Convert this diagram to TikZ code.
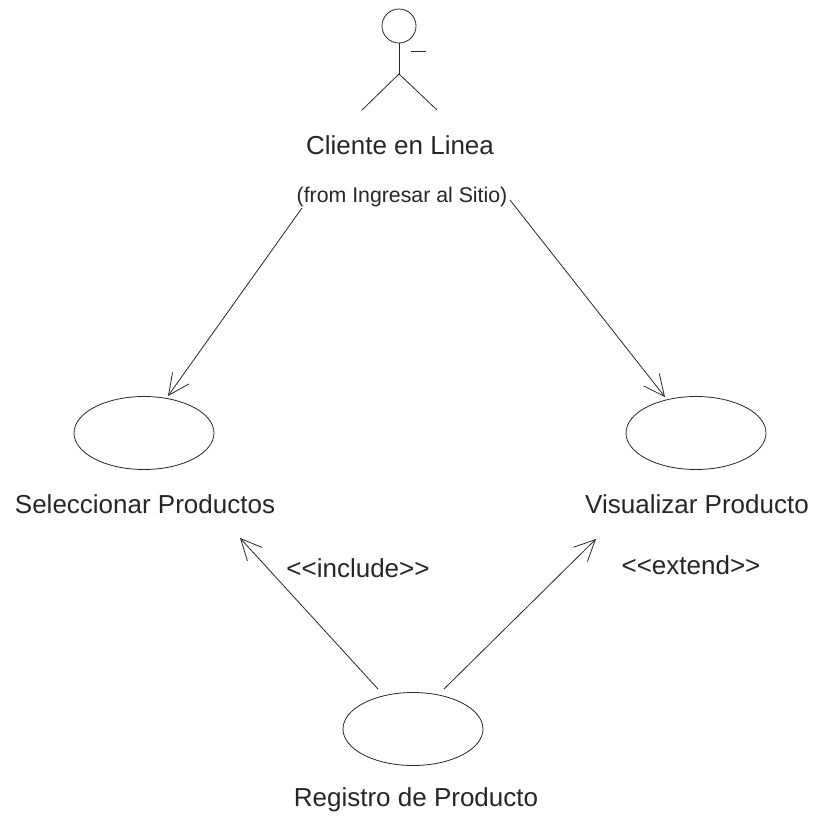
\documentclass[tikz,border=0pt]{standalone}
\usepackage{fontspec}
\setmainfont{Liberation Sans}
\usetikzlibrary{shapes.geometric,arrows.meta}

\begin{document}
\begin{tikzpicture}[x=1pt, y=-1pt, line width=0.8pt, color=black!85,
		usecase/.style={ellipse, draw, minimum width=140pt, minimum height=73pt, inner sep=0pt},
		uselabel/.style={inner sep=1pt, font=\fontsize{26}{30}\selectfont},
		actorhead/.style={circle, draw, minimum size=34pt, inner sep=0pt},
		assoc/.style={-{Straight Barb[length=21pt, width=20pt, line width=0.8pt]}}]
	\useasboundingbox (0, 0) rectangle (814, 817);

	% actor
	\node[actorhead] (head) at (399, 26) {};
	\coordinate (hip) at (399, 74);
	\coordinate (footl) at (362, 110);
	\coordinate (footr) at (437, 110);
	\coordinate (arml) at (411, 51);
	\coordinate (armr) at (426, 51);
	\draw (head.south) -- (hip);
	\draw (footl) -- (hip) -- (footr);
	\draw[line width=0.6pt] (arml) -- (armr);
	\node[uselabel] (client) at (400, 145) {Cliente en Linea};
	\node[inner sep=1pt, font=\fontsize{21.3}{24}\selectfont] (from) at (402, 197) {(from Ingresar al Sitio)};

	% use cases
	\node[usecase] (select) at (144, 433) {};
	\node[usecase] (show) at (696, 433) {};
	\node[usecase] (record) at (413, 729) {};
	\node[uselabel] (selecttext) at (145, 504) {Seleccionar Productos};
	\node[uselabel] (showtext) at (697, 504) {Visualizar Producto};
	\node[uselabel] (recordtext) at (416, 800) {Registro de Producto};
	\node[uselabel] (include) at (358, 568) {<{}<include>{}>};
	\node[uselabel] (extend) at (691, 565) {<{}<extend>{}>};

	% links
	\coordinate (fromleft) at (302, 208);
	\coordinate (fromright) at (510, 200);
	\coordinate (recordleft) at (378, 689);
	\coordinate (recordright) at (444, 689);
	\coordinate (selecttip) at (168, 396);
	\coordinate (showtip) at (665, 397);
	\coordinate (includetip) at (240, 538);
	\coordinate (extendtip) at (596, 539);
	\draw[assoc] (fromleft) -- (selecttip);
	\draw[assoc] (fromright) -- (showtip);
	\draw[assoc] (recordleft) -- (includetip);
	\draw[assoc] (recordright) -- (extendtip);
\end{tikzpicture}
\end{document}
